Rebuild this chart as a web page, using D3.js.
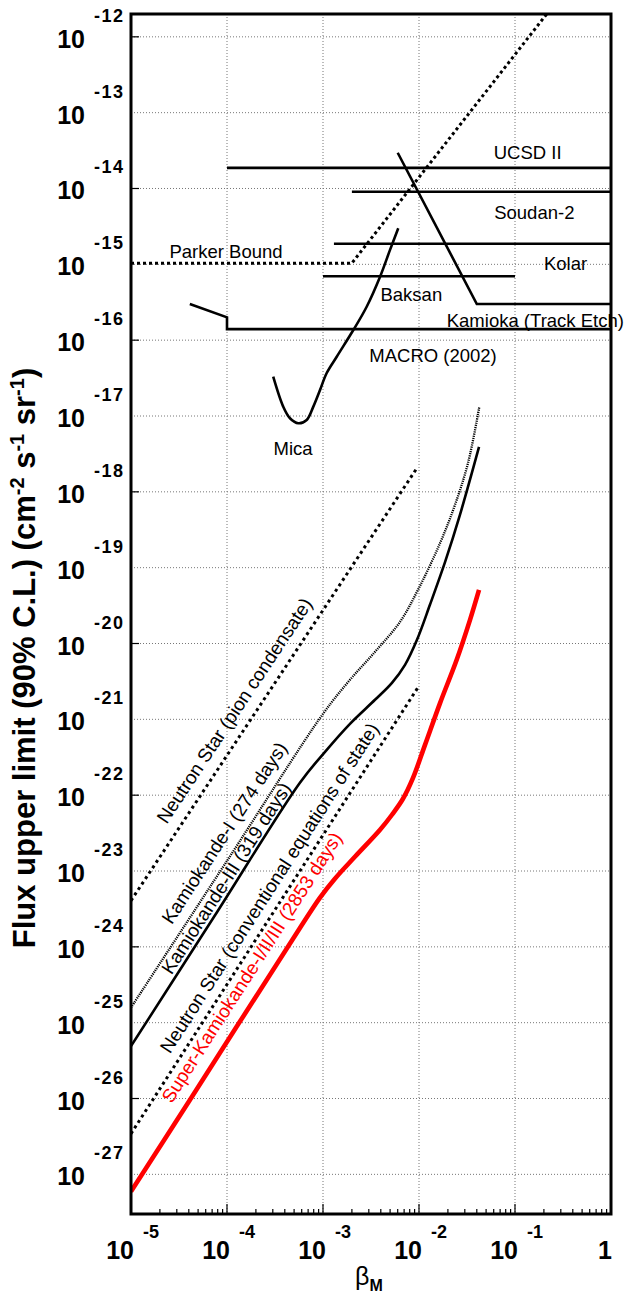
<!DOCTYPE html>
<html>
<head>
<meta charset="utf-8">
<script src="https://cdn.jsdelivr.net/npm/d3@7/dist/d3.min.js"></script>
<style>
  body { margin: 0; background: #fff; }
  text { font-family: "Liberation Sans", Arial, Helvetica, sans-serif; }
</style>
</head>
<body>
<div id="chart"></div>
<script>
// ---- data (beta, flux) ----
var parkerBeta = [1e-5, 1.99e-3, 0.214];
var parkerFlux = [1.03e-15, 1.03e-15, 2.0e-12];

var ucsdBeta = [1e-4, 1];
var ucsdFlux = [1.87e-14, 1.87e-14];

var soudanBeta = [2.0e-3, 1];
var soudanFlux = [9.06e-15, 9.06e-15];

var kolarBeta = [1.3e-3, 1];
var kolarFlux = [1.87e-15, 1.87e-15];

var baksanBeta = [1e-3, 0.1];
var baksanFlux = [6.95e-16, 6.95e-16];

var trackEtchBeta = [6.0e-3, 0.04, 1];
var trackEtchFlux = [2.96e-14, 3.0e-16, 3.0e-16];

var macroBeta = [4.1e-5, 1e-4, 1e-4, 1];
var macroFlux = [3.0e-16, 2.0e-16, 1.4e-16, 1.4e-16];

var micaBeta = [3.03e-4, 3.85e-4, 4.53e-4, 5.53e-4, 6.76e-4, 7.93e-4, 9.31e-4,
  1.09e-3, 1.39e-3, 2.07e-3, 2.85e-3, 3.93e-3, 4.99e-3, 6.08e-3];
var micaFlux = [3.3e-17, 1.33e-17, 9.33e-18, 8.02e-18, 8.87e-18, 1.33e-17, 2.2e-17,
  3.66e-17, 6.05e-17, 1.36e-16, 2.76e-16, 6.87e-16, 1.55e-15, 2.99e-15];

var nsPionBeta = [1e-5, 9.5e-3];
var nsPionFlux = [4.07e-24, 2.05e-18];

var nsConvBeta = [1e-5, 9.8e-3];
var nsConvFlux = [3.44e-27, 2.66e-21];

var kam1Beta = [1e-5, 1e-4, 1e-3, 1.91e-3, 3.48e-3, 6.34e-3, 1e-2, 1.66e-2, 2.37e-2, 3.24e-2, 4.25e-2];
var kam1Flux = [1.58e-25, 1.36e-23, 1.18e-21, 3.32e-21, 7.76e-21, 1.93e-20, 5.42e-20, 2.12e-19, 6.73e-19, 2.4e-18, 1.32e-17];

var kam3Beta = [1e-5, 7.5e-5, 5.75e-4, 1.05e-3, 1.91e-3, 3.48e-3, 5.23e-3, 7.15e-3, 9.53e-3,
  1.3e-2, 1.87e-2, 2.67e-2, 4.22e-2];
var kam3Flux = [4.9e-26, 2.61e-24, 1.46e-22, 3.73e-22, 8.73e-22, 1.81e-21, 3.03e-21, 5.24e-21, 1.12e-20,
  3.24e-20, 1.19e-19, 4.97e-19, 3.91e-18];

var skBeta = [1e-5, 4.12e-5, 5.75e-4, 9.31e-4, 1.33e-3, 2.15e-3, 3.93e-3, 5.23e-3, 6.81e-3, 8.66e-3,
  1.155e-2, 1.66e-2, 2.47e-2, 3.4e-2, 4.22e-2];
var skFlux = [5.93e-28, 9.66e-27, 1.77e-24, 4.45e-24, 7.91e-24, 1.54e-23, 3.5e-23, 5.52e-23, 8.97e-23, 1.69e-22,
  4.61e-22, 1.65e-21, 6.1e-21, 2.05e-20, 5.09e-20];

// axis ticks
var xTicks = [1e-5, 1e-4, 1e-3, 1e-2, 1e-1, 1];
var xTickExps = ["-5", "-4", "-3", "-2", "-1", ""];
var yTicks = [1e-12, 1e-13, 1e-14, 1e-15, 1e-16, 1e-17, 1e-18, 1e-19, 1e-20,
  1e-21, 1e-22, 1e-23, 1e-24, 1e-25, 1e-26, 1e-27];
var yTickExps = ["-12", "-13", "-14", "-15", "-16", "-17", "-18", "-19", "-20",
  "-21", "-22", "-23", "-24", "-25", "-26", "-27"];

// text labels, anchored in data coordinates
var flatLabels = [
  {text: "Parker Bound", beta: 9.77e-5, flux: 1.21e-15},
  {text: "UCSD II", beta: 0.1355, flux: 2.44e-14},
  {text: "Soudan-2", beta: 0.159, flux: 3.95e-15},
  {text: "Kolar", beta: 0.336, flux: 8.41e-16},
  {text: "Baksan", beta: 8.32e-3, flux: 3.28e-16},
  {text: "MACRO (2002)", beta: 0.014, flux: 5.2e-17},
  {text: "Mica", beta: 4.87e-4, flux: 3.07e-18}
];

// ---- setup ----
var width = 624;
var height = 1295;
var xMin = 1e-5, xMax = 1;
var yMin = 3.0e-28, yMax = 2.0e-12;

var svg = d3
  .select("#chart")
  .append("svg")
  .attr("width", width)
  .attr("height", height);

var xScale = d3.scaleLog().domain([xMin, xMax]).range([131, 611]);
var yScale = d3.scaleLog().domain([yMin, yMax]).range([1214, 14]);

var x0 = xScale.range()[0], x1 = xScale.range()[1];
var yTop = yScale.range()[1], yBot = yScale.range()[0];

svg.append("clipPath").attr("id", "plotClip")
  .append("rect")
  .attr("x", x0).attr("y", yTop)
  .attr("width", x1 - x0).attr("height", yBot - yTop);

// grid (dotted)
var grid = svg.append("g").attr("class", "grid");
grid.selectAll("line.gx")
  .data(xTicks.slice(1, -1))
  .enter().append("line")
  .attr("x1", function(d) { return xScale(d); })
  .attr("x2", function(d) { return xScale(d); })
  .attr("y1", yTop).attr("y2", yBot);
grid.selectAll("line.gy")
  .data(yTicks)
  .enter().append("line")
  .attr("y1", function(d) { return yScale(d); })
  .attr("y2", function(d) { return yScale(d); })
  .attr("x1", x0).attr("x2", x1);
grid.selectAll("line")
  .attr("stroke", "#777")
  .attr("stroke-width", 1)
  .attr("stroke-dasharray", "1,2");

// ---- curves ----
function pairs(b, f) {
  return b.map(function(v, i) { return [v, f[i]]; });
}
var straight = d3.line()
  .x(function(d) { return xScale(d[0]); })
  .y(function(d) { return yScale(d[1]); });
var smooth = d3.line()
  .x(function(d) { return xScale(d[0]); })
  .y(function(d) { return yScale(d[1]); })
  .curve(d3.curveCatmullRom.alpha(0.5));

var plot = svg.append("g").attr("clip-path", "url(#plotClip)");

function drawLine(b, f, gen, color, w, dash) {
  plot.append("path")
    .datum(pairs(b, f))
    .attr("d", gen)
    .attr("fill", "none")
    .attr("stroke", color)
    .attr("stroke-width", w)
    .attr("stroke-dasharray", dash);
}

drawLine(ucsdBeta, ucsdFlux, straight, "#000", 2.6, null);
drawLine(soudanBeta, soudanFlux, straight, "#000", 2.6, null);
drawLine(kolarBeta, kolarFlux, straight, "#000", 2.6, null);
drawLine(baksanBeta, baksanFlux, straight, "#000", 2.6, null);
drawLine(trackEtchBeta, trackEtchFlux, straight, "#000", 2.6, null);
drawLine(macroBeta, macroFlux, straight, "#000", 2.6, null);
drawLine(micaBeta, micaFlux, smooth, "#000", 2.6, null);
drawLine(parkerBeta, parkerFlux, straight, "#000", 3, "3,3");
drawLine(nsPionBeta, nsPionFlux, straight, "#000", 3, "3,3.5");
drawLine(nsConvBeta, nsConvFlux, straight, "#000", 3, "3,3.5");
drawLine(kam1Beta, kam1Flux, smooth, "#000", 2.3, "1.2,1");
drawLine(kam3Beta, kam3Flux, smooth, "#000", 2.6, null);
drawLine(skBeta, skFlux, smooth, "#ff0000", 4.6, null);

// ---- labels ----
svg.selectAll("text.flat")
  .data(flatLabels)
  .enter().append("text")
  .attr("class", "flat")
  .attr("x", function(d) { return xScale(d.beta); })
  .attr("y", function(d) { return yScale(d.flux); })
  .attr("text-anchor", "middle")
  .attr("font-size", 18.5)
  .text(function(d) { return d.text; });

svg.append("text")
  .attr("x", xScale(0.01945))
  .attr("y", yScale(1.51e-16))
  .attr("font-size", 18.5)
  .text("Kamioka (Track Etch)");

// rotated labels, sitting a few px above their own curve
var slopeLabels = [
  {text: "Neutron Star (pion condensate)", beta: 3.0e-5, gap: 12, b: nsPionBeta, f: nsPionFlux, color: "#000"},
  {text: "Kamiokande-I (274 days)", beta: 3.31e-5, gap: 11, b: kam1Beta, f: kam1Flux, color: "#000"},
  {text: "Kamiokande-III (319 days)", beta: 2.87e-5, gap: 4, b: kam3Beta, f: kam3Flux, color: "#000"},
  {text: "Neutron Star (conventional equations of state)", beta: 3.12e-5, gap: 10, b: nsConvBeta, f: nsConvFlux, color: "#000"},
  {text: "Super-Kamiokande-I/II/III (2853 days)", beta: 3.45e-5, gap: 13, b: skBeta, f: skFlux, color: "#ff0000"}
];

slopeLabels.forEach(function(d) {
  var ax = xScale(d.b[0]), ay = yScale(d.f[0]);
  var bx = xScale(d.b[1]), by = yScale(d.f[1]);
  var ang = Math.atan2(by - ay, bx - ax) * 180 / Math.PI;
  var px = xScale(d.beta);
  var py = ay + (by - ay) * (px - ax) / (bx - ax);
  svg.append("text")
    .attr("transform", "translate(" + px + "," + py + ") rotate(" + ang + ")")
    .attr("y", -d.gap)
    .attr("font-size", 19)
    .attr("fill", d.color)
    .text(d.text);
});

// ---- frame and ticks ----
var axg = svg.append("g").attr("stroke", "#000");

xScale.ticks().forEach(function(t) {
  var lg = Math.log10(t);
  var major = Math.abs(lg - Math.round(lg)) < 1e-6;
  axg.append("line")
    .attr("x1", xScale(t)).attr("x2", xScale(t))
    .attr("y1", yBot).attr("y2", yBot - (major ? 10 : 5))
    .attr("stroke-width", 1.2);
});
yScale.ticks().forEach(function(t) {
  if (t < yMin || t > yMax) return;
  var lg = Math.log10(t);
  var major = Math.abs(lg - Math.round(lg)) < 1e-6;
  axg.append("line")
    .attr("y1", yScale(t)).attr("y2", yScale(t))
    .attr("x1", x0).attr("x2", x0 + (major ? 8 : 4))
    .attr("stroke-width", 1.2);
});

svg.append("rect")
  .attr("x", x0).attr("y", yTop)
  .attr("width", x1 - x0).attr("height", yBot - yTop)
  .attr("fill", "none")
  .attr("stroke", "#000")
  .attr("stroke-width", 3);

// tick labels: x
var xLab = svg.append("g").attr("font-weight", "bold");
xTicks.forEach(function(t, i) {
  var px = xScale(t);
  var last = i === xTicks.length - 1;
  xLab.append("text")
    .attr("x", last ? px + 1 : px + 3)
    .attr("y", yBot + 45)
    .attr("text-anchor", "end")
    .attr("font-size", 25)
    .text(last ? "1" : "10");
  if (xTickExps[i]) {
    xLab.append("text")
      .attr("x", px + 12)
      .attr("y", yBot + 24)
      .attr("font-size", 18)
      .text(xTickExps[i]);
  }
});

// tick labels: y
var yLab = svg.append("g").attr("font-weight", "bold");
yTicks.forEach(function(t, i) {
  var py = yScale(t);
  yLab.append("text")
    .attr("x", 85)
    .attr("y", py + 11)
    .attr("text-anchor", "end")
    .attr("font-size", 25)
    .text("10");
  yLab.append("text")
    .attr("x", 94)
    .attr("y", py - 15)
    .attr("font-size", 18)
    .attr("letter-spacing", 1.5)
    .text(yTickExps[i]);
});

// axis titles
var yTitle = svg.append("text")
  .attr("transform", "translate(35,658) rotate(-90)")
  .attr("text-anchor", "middle")
  .attr("font-weight", "bold")
  .attr("font-size", 31);
yTitle.append("tspan").text("Flux upper limit (90% C.L.) (cm");
yTitle.append("tspan").attr("font-size", 20).attr("dy", -11).text("-2");
yTitle.append("tspan").attr("dy", 11).text(" s");
yTitle.append("tspan").attr("font-size", 20).attr("dy", -11).text("-1");
yTitle.append("tspan").attr("dy", 11).text(" sr");
yTitle.append("tspan").attr("font-size", 20).attr("dy", -11).text("-1");
yTitle.append("tspan").attr("dy", 11).text(")");

var xTitle = svg.append("text")
  .attr("x", 355)
  .attr("y", 1285)
  .attr("font-size", 25);
xTitle.append("tspan").text("\u03b2");
xTitle.append("tspan").attr("font-size", 16).attr("font-weight", "bold").attr("dy", 6).text("M");
</script>
</body>
</html>
